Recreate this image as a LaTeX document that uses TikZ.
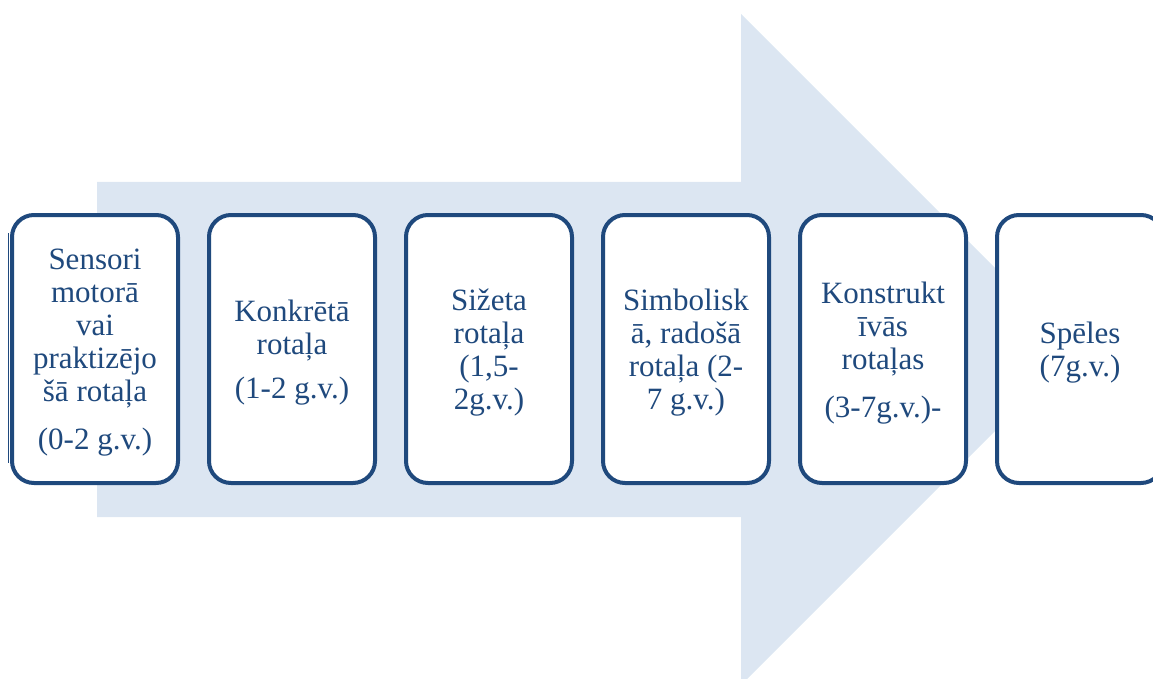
\documentclass[tikz,border=0pt]{standalone}
\usepackage{fontspec}
\setmainfont{Liberation Serif}
\definecolor{boxblue}{RGB}{31,73,125}
\definecolor{arrowfill}{RGB}{220,230,242}
\begin{document}
\begin{tikzpicture}[x=1pt,y=-1pt,
  stagebox/.style={draw=boxblue, line width=4pt, fill=white, rounded corners=22pt,
    minimum width=166pt, minimum height=268pt, inner sep=0pt, text=boxblue,
    align=center, font=\fontsize{31}{33}\selectfont},
  stagetext/.style={inner sep=0pt, text=boxblue, align=center, font=\fontsize{31}{33}\selectfont}]
\useasboundingbox (0,0) rectangle (1153,679);
\clip (0,0) rectangle (1153,679);
\fill[arrowfill] (97,182) -- (741,182) -- (741,14) -- (1076.5,349.5) -- (741,685) -- (741,517) -- (97,517) -- cycle;
\foreach \i/\x in {1/95,2/292,3/489,4/686,5/883,6/1080}
  \node[stagebox] (b\i) at (\x,349) {};
\node[stagetext] (t1) at ([yshift=-4pt]b1.center) {Sensori\\motorā\\vai\\praktizējo\\šā rotaļa\\[15pt](0-2 g.v.)};
\node[stagetext] (t2) at ([yshift=-4pt]b2.center) {Konkrētā\\rotaļa\\[11pt](1-2 g.v.)};
\node[stagetext] (t3) at ([yshift=-4pt]b3.center) {Sižeta\\rotaļa\\(1,5-\\2g.v.)};
\node[stagetext] (t4) at ([yshift=-4pt]b4.center) {Simbolisk\\ā, radošā\\rotaļa (2-\\7 g.v.)};
\node[stagetext] (t5) at ([yshift=-4pt]b5.center) {Konstrukt\\īvās\\rotaļas\\[15pt](3-7g.v.)-};
\node[stagetext] (t6) at ([yshift=-4pt]b6.center) {Spēles\\(7g.v.)};
\draw[boxblue, line width=1pt] (8,233) -- (8,463);
\end{tikzpicture}
\end{document}
